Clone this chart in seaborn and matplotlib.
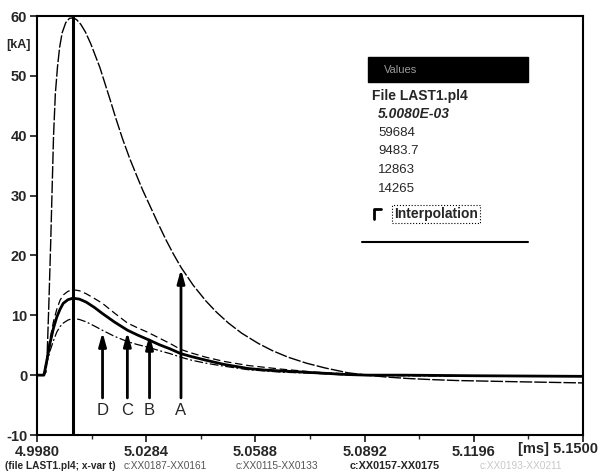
import numpy as np
import pandas as pd
import seaborn as sns
import matplotlib.pyplot as plt
from matplotlib.patches import Rectangle
from matplotlib.lines import Line2D

# Curve A (peak current)
t_a = [4.998, 4.9999, 5.0005, 5.0008, 5.0013, 5.0018, 5.0022, 5.0026, 5.0031, 5.0037,
       5.0043, 5.005, 5.006, 5.007, 5.008, 5.009, 5.0102, 5.0115, 5.013, 5.0155,
       5.0182, 5.02, 5.0218, 5.0238, 5.0259, 5.0275, 5.0292, 5.0315, 5.0339, 5.036,
       5.0381, 5.0415, 5.045, 5.048, 5.0513, 5.055, 5.0596, 5.0635, 5.0679, 5.073,
       5.0782, 5.0845, 5.0898, 5.095, 5.101, 5.108, 5.115, 5.1315, 5.15]
v_a = [0, 0, 0.5, 3, 12, 22, 31, 40, 47, 51.5,
       54.8, 57.2, 58.9, 59.6, 59.7, 59.4, 58.6, 57.3, 55.3, 51.4,
       46.3, 42.8, 39.5, 36.2, 33.1, 30.8, 28.6, 25.6, 22.6, 20.2,
       18.0, 15.0, 12.4, 10.5, 8.7, 7.0, 5.3, 4.1, 3.0, 2.0,
       1.2, 0.4, 0.0, -0.3, -0.55, -0.75, -0.9, -1.1, -1.3]

# Curves B (dashed), C (thick), D (dash-dot)
t_bcd = [4.998, 4.9999, 5.0002, 5.001, 5.0016, 5.0026, 5.0035, 5.0044, 5.0053, 5.0066,
         5.008, 5.0098, 5.0117, 5.014, 5.0162, 5.0195, 5.0232, 5.026, 5.0287, 5.032,
         5.035, 5.038, 5.041, 5.045, 5.05, 5.0569, 5.0615, 5.066, 5.0708, 5.0754,
         5.08, 5.0845, 5.09, 5.10, 5.12, 5.15]
v_b = [0, 0, 1.0, 3.8, 6.0, 9.0, 11.0, 12.5, 13.4, 14.0,
       14.27, 14.1, 13.6, 12.8, 12.0, 10.4, 8.7, 7.9, 7.2, 6.2,
       5.3, 4.3, 3.7, 3.0, 2.3, 1.6, 1.3, 1.0, 0.75, 0.5,
       0.35, 0.2, 0.05, 0.0, -0.1, -0.1]
v_c = [0, 0, 0.8, 3.3, 5.3, 7.9, 9.7, 11.0, 12.0, 12.6,
       12.86, 12.7, 12.2, 11.3, 10.3, 8.9, 7.5, 6.7, 6.0, 5.1,
       4.4, 3.6, 3.1, 2.5, 1.8, 1.1, 0.85, 0.7, 0.55, 0.4,
       0.25, 0.1, 0.0, 0.0, -0.1, -0.2]
v_d = [0, 0, 1.0, 2.6, 4.0, 5.8, 7.2, 8.1, 8.7, 9.2,
       9.48, 9.3, 8.9, 8.2, 7.5, 6.5, 5.6, 5.1, 4.7, 4.1,
       3.6, 3.0, 2.5, 2.0, 1.5, 0.9, 0.7, 0.5, 0.4, 0.3,
       0.15, 0.0, -0.05, -0.1, -0.2, -0.2]

cursor_t = 5.008
panel_values = ['5.0080E-03', '59684', '9483.7', '12863', '14265']

arrow_labels = ['D', 'C', 'B', 'A']
arrow_t = [5.01624, 5.02315, 5.02932, 5.03808]

x_ticks = [4.998, 5.0284, 5.0588, 5.0892, 5.1196, 5.15]
x_ticklabels = ['4.9980', '5.0284', '5.0588', '5.0892', '5.1196', '']
y_ticks = [-10, 0, 10, 20, 30, 40, 50, 60]

sns.set_style('ticks')
plt.rcParams['font.family'] = ['Liberation Sans', 'DejaVu Sans']

fig = plt.figure(figsize=(6, 4.75), dpi=100)
ax = fig.add_axes([0.0617, 0.0842, 0.91, 0.8821])

sns.lineplot(x=t_a, y=v_a, ax=ax, color='black', lw=1.0)
ax.lines[-1].set_linestyle((0, (9, 1.5)))
sns.lineplot(x=t_bcd, y=v_b, ax=ax, color='black', lw=0.9)
ax.lines[-1].set_linestyle((0, (6, 3)))
sns.lineplot(x=t_bcd, y=v_c, ax=ax, color='black', lw=2.0)
sns.lineplot(x=t_bcd, y=v_d, ax=ax, color='black', lw=0.9)
ax.lines[-1].set_linestyle((0, (7, 2, 1.5, 2)))

# cursor
ax.axvline(cursor_t, color='black', lw=2.2)

# arrows pointing at the curves
curves = {'A': (t_a, v_a), 'B': (t_bcd, v_b), 'C': (t_bcd, v_c), 'D': (t_bcd, v_d)}
for lab, t in zip(arrow_labels, arrow_t):
    tt, vv = curves[lab]
    tip = np.interp(t, tt, vv) - 0.3
    ax.annotate('', xy=(t, tip), xytext=(t, -3.8),
                arrowprops=dict(arrowstyle='-|>,head_length=0.8,head_width=0.22',
                                color='black', lw=2.0, shrinkA=0, shrinkB=0))
    ax.text(t, -5.9, lab, ha='center', va='center', fontsize=12)

ax.set_xlim(4.998, 5.15)
ax.set_ylim(-10, 60)
ax.set_xticks(x_ticks)
ax.set_xticklabels(x_ticklabels)
ax.set_xticks([4.998 + 0.0152 * (2 * i + 1) for i in range(5)], minor=True)
ax.set_yticks(y_ticks)
ax.set_yticklabels([str(v) for v in y_ticks])
ax.tick_params(axis='both', direction='out', length=5, width=1.3, labelsize=10.5, pad=2)
ax.tick_params(axis='x', which='minor', direction='out', length=3, width=1.0)
for lbl in ax.get_xticklabels() + ax.get_yticklabels():
    lbl.set_fontweight('bold')
for s in ax.spines.values():
    s.set_visible(True)
    s.set_linewidth(1.5)
    s.set_color('black')

fig.text(6 / 600, 1 - 45 / 475, '[kA]', fontsize=9, fontweight='bold', va='center')
fig.text(598 / 600, 1 - 449 / 475, '[ms] 5.1500', fontsize=10.5, fontweight='bold',
         ha='right', va='center')

# values panel
fig.add_artist(Rectangle((368 / 600, 1 - 82 / 475), 160 / 600, 25 / 475,
                         transform=fig.transFigure, color='black'))
fig.text(384 / 600, 1 - 70 / 475, 'Values', color='#9a9a9a', fontsize=8, va='center')
fig.text(372 / 600, 1 - 96 / 475, 'File LAST1.pl4', fontsize=10, fontweight='bold', va='center')
fig.text(378 / 600, 1 - 114 / 475, panel_values[0], fontsize=10, fontweight='bold',
         style='italic', va='center')
for i, val in enumerate(panel_values[1:]):
    fig.text(378 / 600, 1 - (133 + 18.5 * i) / 475, val, fontsize=9.5, va='center')
fig.add_artist(Line2D([374 / 600, 374 / 600, 381 / 600],
                      [1 - 219 / 475, 1 - 209 / 475, 1 - 209 / 475],
                      transform=fig.transFigure, color='black', lw=2))
fig.text(394 / 600, 1 - 214 / 475, 'Interpolation', fontsize=10, fontweight='bold', va='center',
         bbox=dict(boxstyle='square,pad=0.15', fc='white', ec='black', ls=':', lw=0.8))
fig.add_artist(Line2D([362 / 600, 528 / 600], [1 - 242 / 475, 1 - 242 / 475],
                      transform=fig.transFigure, color='black', lw=1.5))

# footer
fy = 1 - 466 / 475
fig.text(5 / 600, fy, '(file LAST1.pl4; x-var t)', fontsize=7.3, fontweight='bold', va='center')
fig.text(124 / 600, fy, 'c:XX0187-XX0161', fontsize=7.3, color='#555555', va='center')
fig.text(236 / 600, fy, 'c:XX0115-XX0133', fontsize=7.3, color='#555555', va='center')
fig.text(350 / 600, fy, 'c:XX0157-XX0175', fontsize=7.8, fontweight='bold', va='center')
fig.text(480 / 600, fy, 'c:XX0193-XX0211', fontsize=7.3, color='#c8c8c8', va='center')

fig.savefig('out.png', dpi=100)
